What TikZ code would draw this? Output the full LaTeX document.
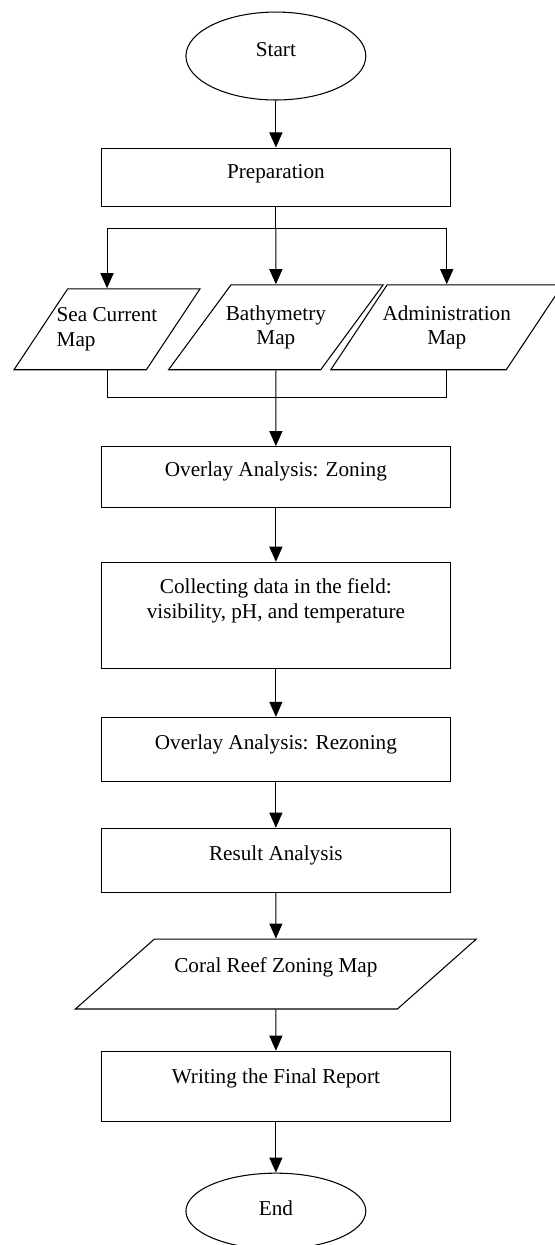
\documentclass[tikz,border=0pt]{standalone}
\usepackage{fontspec}
\setmainfont{Liberation Serif}
\usetikzlibrary{arrows.meta,positioning,shapes.geometric}

\begin{document}
\begin{tikzpicture}[
    font=\fontsize{12}{13.8}\selectfont,
    node distance=9.5mm,
    terminal/.style={draw, ellipse, minimum width=35.8mm, minimum height=17.5mm, line width=0.6pt},
    box/.style={draw, rectangle, align=center, minimum width=69.4mm, minimum height=12.7mm, text depth=3mm, line width=0.6pt},
    mapdata/.style={draw, trapezium, trapezium left angle=53, trapezium right angle=127, trapezium stretches=true, align=center, inner xsep=-4mm, minimum height=16.9mm, line width=0.6pt},
    line/.style={-{Triangle[length=3mm, width=2.6mm]}, line width=0.6pt},
    plainline/.style={line width=0.6pt}
]
\useasboundingbox (-54.9mm,11.15mm) rectangle (55.5mm,-236.6mm);

\node[terminal, text depth=2.6mm] (start) {Start};
\node[box, below=9.35mm of start, minimum height=11.7mm, text depth=2.5mm] (prep) {Preparation};
\node[mapdata, below=15.3mm of prep, minimum width=42.8mm] (bathy) {Bathymetry\\Map};
\node[mapdata, anchor=south, minimum width=37.2mm, minimum height=16.1mm, align=left] (sea) at ([xshift=-33.6mm]bathy.south) {Sea Current\\Map};
\node[mapdata, anchor=south, minimum width=46.6mm] (admin) at ([xshift=34mm]bathy.south) {Administration\\Map};
\node[box, below=15.1mm of bathy, minimum height=12.1mm, text depth=3.3mm] (zoning) {Overlay Analysis: Zoning};
\node[box, below=10.7mm of zoning, minimum height=21.1mm, text depth=6.7mm] (collect) {Collecting data in the field:\\visibility, pH, and temperature};
\node[box, below=9.55mm of collect] (rezoning) {Overlay Analysis: Rezoning};
\node[box, below=9.15mm of rezoning, text depth=2.7mm] (result) {Result Analysis};
\node[mapdata, trapezium left angle=40, trapezium right angle=140, below=9.15mm of result, minimum width=79.8mm, minimum height=13.9mm, text depth=3.5mm] (coral) {Coral Reef Zoning Map};
\node[box, below=8.2mm of coral, minimum height=13.9mm, text depth=3.9mm] (report) {Writing the Final Report};
\node[terminal, below=10.15mm of report, minimum height=15.1mm, text depth=1.1mm] (end) {End};

% branching to the three maps
\draw[line] (start) -- (prep);
\coordinate[below=4.2mm of prep] (split);
\draw[plainline] (prep) -- (split);
\draw[line] (split) -| (sea.north);
\draw[line] (split) -- (bathy);
\draw[line] (split) -| (admin.north);

% joining the maps
\coordinate[below=5.4mm of bathy] (merge);
\draw[plainline] (sea.south) |- (merge) -| (admin.south);
\draw[line] (bathy) -- (zoning);

\draw[line] (zoning) -- (collect);
\draw[line] (collect) -- (rezoning);
\draw[line] (rezoning) -- (result);
\draw[line] (result) -- (coral);
\draw[line] (coral) -- (report);
\draw[line] (report) -- (end);
\end{tikzpicture}
\end{document}
